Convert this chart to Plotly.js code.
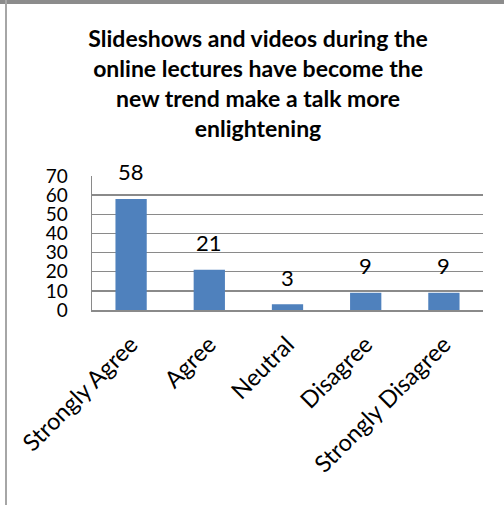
<!DOCTYPE html>
<html>
<head>
<meta charset="utf-8">
<script src="https://cdn.plot.ly/plotly-3.0.1.min.js"></script>
<style>
  html, body { margin: 0; padding: 0; background: #fff; }
  #wrap { position: relative; width: 504px; height: 505px; overflow: hidden; }
  #chart { position: absolute; left: 0; top: 0; width: 504px; height: 505px; }
  #btop { position: absolute; left: 0; top: 0; width: 504px; height: 4px; background: #8c8c8c; }
  #bleft { position: absolute; left: 5px; top: 0; width: 2px; height: 505px; background: #a6a6a6; }
</style>
</head>
<body>
<div id="wrap">
  <div id="chart"></div>
  <div id="btop"></div>
  <div id="bleft"></div>
</div>
<script>
const categories = ["Strongly Agree", "Agree", "Neutral", "Disagree", "Strongly Disagree"];
const values = [58, 21, 3, 9, 9];
const yTicks = [0, 10, 20, 30, 40, 50, 60, 70];
const titleText = "Slideshows and videos during the<br>online lectures have become the<br>new trend make a talk more<br>enlightening";

const FONT = "Lato, 'Open Sans', sans-serif";

const trace = {
  type: "bar",
  x: categories,
  y: values,
  marker: { color: "#4F81BD" },
  hoverinfo: "none"
};

const annotations = categories.map((c, i) => ({
  x: c, y: values[i], xref: "x", yref: "y",
  text: String(values[i]),
  showarrow: false,
  yanchor: "middle",
  yshift: 27,
  font: { family: FONT, size: 22, color: "#000" }
}));

const layout = {
  width: 504, height: 505,
  margin: { l: 92, r: 21, t: 176, b: 195 },
  paper_bgcolor: "#fff", plot_bgcolor: "#fff",
  showlegend: false,
  bargap: 0.6,
  title: {
    text: titleText,
    font: { family: FONT, size: 23, color: "#000", weight: "bold" },
    x: 0.512, xanchor: "center", xref: "container",
    y: 0.907, yanchor: "top", yref: "container"
  },
  xaxis: {
    type: "category",
    tickangle: -45,
    showgrid: false,
    showline: true, linecolor: "#8a8a8a", linewidth: 1.5,
    ticks: "",
    ticklabelstandoff: 10,
    tickfont: { family: FONT, size: 23.5, color: "#000" }
  },
  yaxis: {
    range: [0, 70],
    tickvals: yTicks,
    ticktext: yTicks.map(String),
    showgrid: true, gridcolor: "#8a8a8a", gridwidth: 1.5,
    showline: true, linecolor: "#8a8a8a", linewidth: 1.5,
    zeroline: false,
    ticks: "",
    ticklabelstandoff: 19,
    tickfont: { family: FONT, size: 19, color: "#000" }
  },
  annotations: annotations
};

Plotly.newPlot("chart", [trace], layout, { displayModeBar: false, staticPlot: true });
</script>
</body>
</html>
